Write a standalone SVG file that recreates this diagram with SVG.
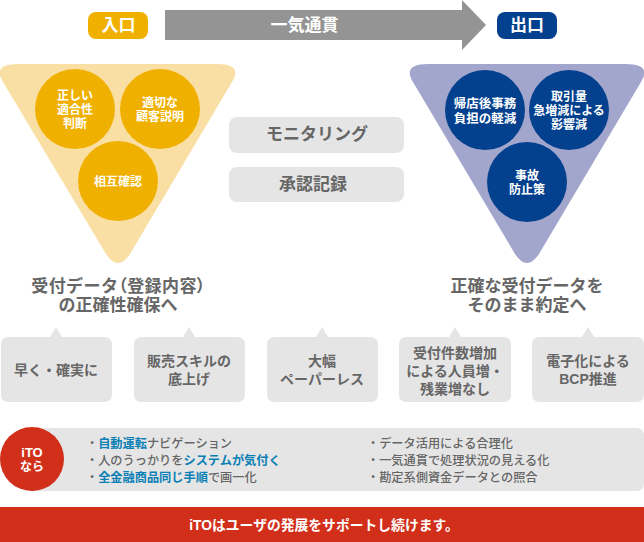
<svg xmlns="http://www.w3.org/2000/svg" width="644" height="542" viewBox="0 0 644 542">
<style>
text{font-family:"Liberation Sans","Noto Sans CJK JP",sans-serif;font-weight:700;text-anchor:middle}
.w{fill:#fff}
.c{font-size:12px;fill:#fff}
.c2{font-size:12.5px;fill:#fff}
.h{font-size:17px;fill:#666}
.b{fill:#e5e5e5}
.s{font-size:14px;fill:#666}
.l{font-size:12.2px;fill:#666;text-anchor:start;font-weight:500}
.a{fill:#0a7fb5;font-weight:700}
.tb{font-size:17px;fill:#666}
.p{font-feature-settings:"palt"}
</style>
<g id="entry"><rect x="88" y="12" width="60" height="27" rx="8" fill="#f0b000"/><text class="w" x="118.500" y="31" style="font-size:17px">入口</text></g>
<g id="flow"><path d="M165 10H462V0L486 25L462 50V40H165Z" fill="#939493"/><text class="w" x="304.500" y="31" style="font-size:17px">一気通貫</text></g>
<g id="exit"><rect x="497" y="12" width="60" height="27" rx="8" fill="#03408e"/><text class="w" x="527" y="31" style="font-size:17px">出口</text></g>

<g id="left-triangle">
<path d="M18 64H217Q243 64 232 82L130 254Q118 272 106 254L3 82Q-8 64 18 64Z" fill="#f9dfa3"/>
<circle cx="75" cy="109" r="40" fill="#f0b000"/><circle cx="160" cy="109" r="40" fill="#f0b000"/><circle cx="118" cy="181" r="40" fill="#f0b000"/>
<text class="c" x="75" y="100">正しい</text><text class="c" x="75" y="114">適合性</text><text class="c" x="75" y="128">判断</text>
<text class="c" x="160" y="107">適切な</text><text class="c" x="160" y="121">顧客説明</text>
<text class="c" x="118" y="186">相互確認</text>
</g>
<g id="right-triangle">
<path d="M428 64H626Q652 64 641 82L539 254Q527 272 515 254L413 82Q402 64 428 64Z" fill="#a3a6cc"/>
<circle cx="485" cy="110" r="40" fill="#03408e"/><circle cx="569" cy="110" r="40" fill="#03408e"/><circle cx="527" cy="182" r="40" fill="#03408e"/>
<text class="c2" x="485" y="108">帰店後事務</text><text class="c2" x="485" y="123">負担の軽減</text>
<text class="c" x="569" y="101">取引量</text><text class="c" x="569" y="115">急増減による</text><text class="c" x="569" y="129">影響減</text>
<text class="c" x="527" y="180">事故</text><text class="c" x="527" y="194">防止策</text>
</g>
<g id="monitoring"><rect class="b" x="229" y="117" width="175" height="36" rx="8"/><text class="tb" x="317" y="140">モニタリング</text></g>
<g id="approval"><rect class="b" x="229" y="167" width="175" height="35" rx="8"/><text class="tb" x="313" y="190">承認記録</text></g>

<g id="left-heading"><text class="h" x="118.500" y="292" letter-spacing="0.4"><tspan>受付データ</tspan><tspan class="p">（</tspan><tspan>登録内容</tspan><tspan class="p">）</tspan></text><text class="h" x="118" y="311">の正確性確保へ</text></g>
<g id="right-heading"><text class="h" x="527" y="292">正確な受付データを</text><text class="h" x="527" y="311">そのまま約定へ</text></g>

<g id="card1"><path class="b" d="M9 337H50L56 327L62 337H104Q112 337 112 345V394Q112 402 104 402H9Q1 402 1 394V345Q1 337 9 337Z"/><text class="s" x="56" y="375">早く・確実に</text></g>
<g id="card2"><path class="b" d="M142 337H183L189 327L195 337H237Q245 337 245 345V394Q245 402 237 402H142Q134 402 134 394V345Q134 337 142 337Z"/><text class="s" x="189" y="366">販売スキルの</text><text class="s" x="189" y="384">底上げ</text></g>
<g id="card3"><path class="b" d="M275 337H316L322 327L328 337H370Q378 337 378 345V394Q378 402 370 402H275Q267 402 267 394V345Q267 337 275 337Z"/><text class="s" x="322" y="366">大幅</text><text class="s" x="322" y="384">ペーパーレス</text></g>
<g id="card4"><path class="b" d="M407 337H449L455 327L461 337H503Q511 337 511 345V394Q511 402 503 402H407Q399 402 399 394V345Q399 337 407 337Z"/><text class="s" x="455" y="358">受付件数増加</text><text class="s" x="455" y="376">による人員増・</text><text class="s" x="455" y="394">残業増なし</text></g>
<g id="card5"><path class="b" d="M540 337H582L588 327L594 337H636Q644 337 644 345V394Q644 402 636 402H540Q532 402 532 394V345Q532 337 540 337Z"/><text class="s" x="588" y="366">電子化による</text><text class="s" x="588" y="384">BCP推進</text></g>

<g id="ito">
<path class="b" d="M30 428H636Q644 428 644 436V483Q644 491 636 491H30Z"/>
<circle cx="32" cy="459" r="32" fill="#d22f1b"/>
<text class="w" x="32" y="457" style="font-size:13px">iTO</text><text class="w" x="32" y="471" style="font-size:12px">なら</text>
<text class="l" x="86" y="448">・<tspan class="a">自動運転</tspan>ナビゲーション</text>
<text class="l" x="86" y="464.500">・人のうっかりを<tspan class="a">システムが気付く</tspan></text>
<text class="l" x="86" y="481.500">・<tspan class="a">全金融商品同じ手順</tspan>で画一化</text>
<text class="l" x="367" y="448">・データ活用による合理化</text>
<text class="l" x="367" y="464.500">・一気通貫で処理状況の見える化</text>
<text class="l" x="367" y="481.500">・勘定系側資金データとの照合</text>
</g>
<g id="footer"><rect x="0" y="507" width="644" height="35" fill="#d22f1b"/><text class="w" x="324" y="530" style="font-size:13.800px">iTOはユーザの発展をサポートし続けます。</text></g>
</svg>
